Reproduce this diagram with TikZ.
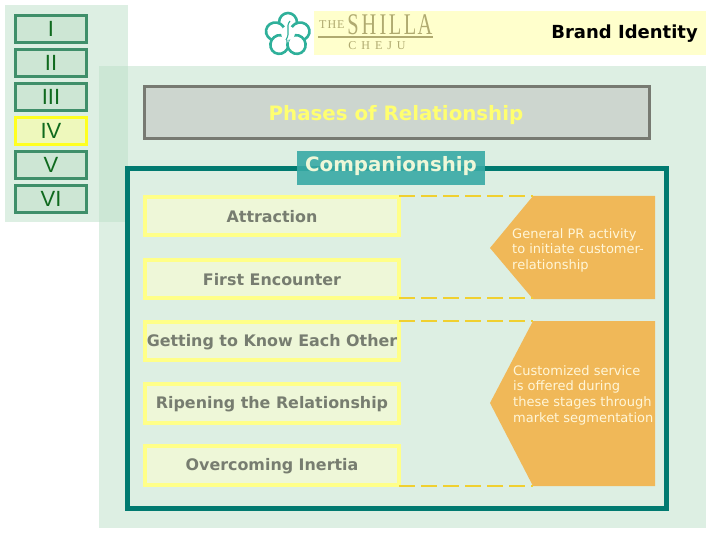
\documentclass[tikz,border=0pt]{standalone}
\usepackage{fontspec}
\setmainfont{DejaVu Sans}
\newfontfamily\logofont{Liberation Serif}
\newfontfamily\btnfont{Liberation Sans}
\definecolor{panelc}{HTML}{BCE0C8}
\definecolor{btnline}{HTML}{3F8F6A}
\definecolor{btnfill}{HTML}{CDE6D4}
\definecolor{btntext}{HTML}{0F6A1E}
\definecolor{hiline}{HTML}{FFFF20}
\definecolor{hifill}{HTML}{EEF8BC}
\definecolor{logobar}{HTML}{FFFFCC}
\definecolor{logotext}{HTML}{B0AA70}
\definecolor{flowerc}{HTML}{2FB09A}
\definecolor{grayline}{HTML}{777A72}
\definecolor{grayfill}{HTML}{CDD6CF}
\definecolor{titley}{HTML}{FFFF70}
\definecolor{tealbox}{HTML}{38AAA6}
\definecolor{frame}{HTML}{007A70}
\definecolor{boxline}{HTML}{FFFF88}
\definecolor{boxfill}{HTML}{EEF7D8}
\definecolor{boxtext}{HTML}{777D70}
\definecolor{orange}{HTML}{F0B858}
\definecolor{dashc}{HTML}{F0D030}
\definecolor{cream}{HTML}{FFF6D8}
\tikzset{
  panel/.style={fill=panelc,fill opacity=0.5,draw=none},
  btn/.style={draw=btnline,line width=3pt,fill=btnfill,minimum width=71pt,minimum height=27pt,inner sep=0pt,text=btntext,text height=15.8pt,text depth=0pt,font=\fontsize{22}{22}\selectfont\btnfont},
  btnhi/.style={btn,draw=hiline,fill=hifill},
  phase/.style={draw=boxline,line width=4pt,fill=boxfill,minimum width=254pt,minimum height=38.5pt,inner sep=0pt},
  phasetext/.style={inner sep=0pt,text=boxtext,font=\fontsize{15.9}{16}\selectfont\bfseries},
  brace/.style={draw=dashc,line width=2pt,dash pattern=on 16pt off 6pt},
  notebox/.style={fill=orange,draw=none},
  notetext/.style={text=cream,align=left,anchor=north west,inner sep=0pt,font=\fontsize{13}{15.7}\selectfont},
  petal/.style={draw=flowerc,line width=2.6pt,fill=white},
  logoletter/.style={inner sep=0pt,text=logotext,font=\fontsize{30}{30}\selectfont\logofont,xscale=0.68}
}
\begin{document}
\begin{tikzpicture}[x=1pt,y=-1pt]
\useasboundingbox (0,0) rectangle (720,540);
\fill[white] (0,0) rectangle (720,540);
% panels
\fill[panel] (5,5) rectangle (128,222);
\fill[panel] (99,66) rectangle (706,528);
% logo bar
\fill[logobar] (314,11) rectangle (706,55);
% flower
\foreach \a/\px/\py in {90/288/22.5, 170/275.5/31.5, 10/300/31.5, 240/279.5/44.5, -60/296.5/44.5}{
  \draw[petal,rotate around={\a:(\px,\py)}] (\px,\py) ellipse [x radius=9.5pt,y radius=9pt];
}
\fill[white] (288,33) circle (7pt);
\draw[flowerc,line width=1.1pt] (290,21) .. controls (285,27) and (291,32) .. (286,40);
\fill[flowerc!50] (288,41) circle (1.6pt);
% logo text
\node[inner sep=0pt,anchor=west,text=logotext,font=\fontsize{12}{12}\selectfont\logofont] (the) at (319,25) {T\kern1pt H\kern1pt E};
\node[logoletter] (l1) at (353,25) {S};
\node[logoletter] (l2) at (369,25) {H};
\node[logoletter] (l3) at (383,25) {I};
\node[logoletter] (l4) at (395,25) {L};
\node[logoletter] (l5) at (410,25) {L};
\node[logoletter] (l6) at (425,25) {A};
\fill[logotext] (318,36.5) rectangle (433,38);
\node[inner sep=0pt,text=logotext,font=\fontsize{12}{12}\selectfont\logofont] (cheju) at (377,45.5) {C\kern5pt H\kern5pt E\kern5pt J\kern5pt U};
\node[inner sep=0pt,anchor=east,font=\fontsize{18}{18}\selectfont\bfseries] (brand) at (698,33.5) {Brand Identity};
% buttons
\node[btn] (b1) at (51,29) {I};
\node[btn] (b2) at (51,63) {II};
\node[btn] (b3) at (51,97) {III};
\node[btnhi] (b4) at (51,131) {IV};
\node[btn] (b5) at (51,165) {V};
\node[btn] (b6) at (51,199) {VI};
% title
\node[draw=grayline,line width=3pt,fill=grayfill,minimum width=505pt,minimum height=52pt,inner sep=0pt] (title) at (397,112.5) {};
\node[inner sep=0pt,text=titley,font=\fontsize{19.8}{20}\selectfont\bfseries] (titletext) at (396,115) {Phases of Relationship};
% frame
\draw[frame,line width=5pt] (127.5,168.5) rectangle (666.5,508.5);
\fill[tealbox,fill opacity=0.9] (297,151) rectangle (485,185);
\node[inner sep=0pt,text=boxfill,font=\fontsize{19.8}{20}\selectfont\bfseries] (comp) at (391,166.5) {Companionship};
% phases
\node[phase] (p1) at (272,216) {};
\node[phase] (p2) at (272,279) {};
\node[phase] (p3) at (272,341) {};
\node[phase] (p4) at (272,403.5) {};
\node[phase] (p5) at (272,465.5) {};
\node[phasetext] (a1) at (272,217) {Attraction};
\node[phasetext] (a2) at (272,280) {First Encounter};
\node[phasetext] (a3) at (272,342) {Getting to Know Each Other};
\node[phasetext] (a4) at (272,404.5) {Ripening the Relationship};
\node[phasetext] (a5) at (272,466.5) {Overcoming Inertia};
% notes
\coordinate (n1t) at (533,196);
\coordinate (n1b) at (533,298);
\coordinate (n2t) at (533,321);
\coordinate (n2b) at (533,486);
\coordinate (d1) at (399,196);
\coordinate (d2) at (399,298);
\coordinate (d3) at (399,321);
\coordinate (d4) at (399,486);
\fill[notebox] (533,196) -- (655,196) -- (655,299) -- (533,299) -- (490,248) -- cycle;
\fill[notebox] (533,321) -- (655,321) -- (655,486) -- (533,486) -- (490,403) -- cycle;
\node[notetext] (t1) at (512,228) {General PR activity\\to initiate customer-\\relationship};
\node[notetext] (t2) at (513,365) {Customized service\\is offered during\\these stages through\\market segmentation};
% dashes
\draw[brace] (d1) -- (n1t);
\draw[brace] (d2) -- (n1b);
\draw[brace] (d3) -- (n2t);
\draw[brace] (d4) -- (n2b);
\end{tikzpicture}
\end{document}
